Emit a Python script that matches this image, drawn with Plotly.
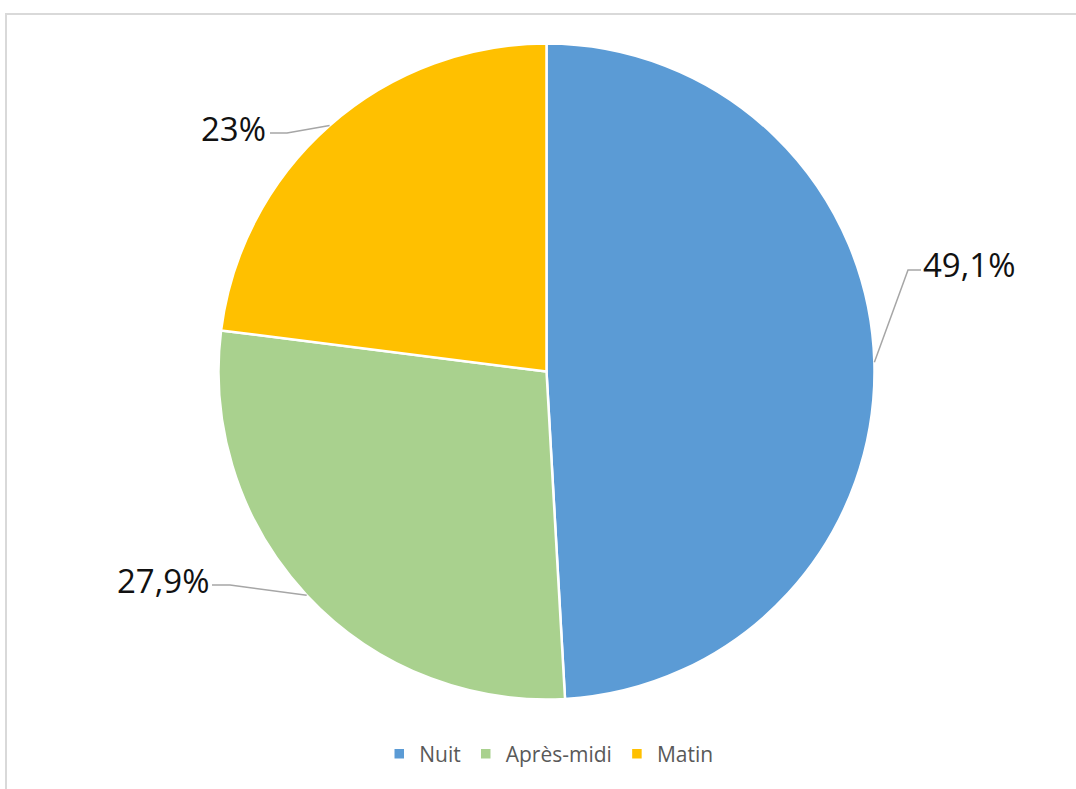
import math
import plotly.graph_objects as go

# Share of events by time of day (%)
categories = ["Nuit", "Après-midi", "Matin"]
values = [49.1, 27.9, 23.0]
colors = ["#5B9BD5", "#A9D18E", "#FFC000"]

W, H = 1076, 789
cx, cy, r = 546.5, 371.5, 328.0  # pie centre / radius in pixels


def px(x, y):
    return x / W, 1 - y / H


fig = go.Figure(
    go.Pie(
        labels=categories,
        values=values,
        sort=False,
        direction="clockwise",
        rotation=0,
        marker=dict(colors=colors, line=dict(color="white", width=2.5)),
        textinfo="none",
        hoverinfo="label+percent",
        domain=dict(x=[(cx - r) / W, (cx + r) / W], y=[1 - (cy + r) / H, 1 - (cy - r) / H]),
    )
)

# Outside labels with leader lines, anchored at each slice's mid-angle
label_cfg = {
    "Nuit": dict(bend=(908, 270), end=(921, 270), text=(921, 264), anchor="left"),
    "Après-midi": dict(bend=(230, 585), end=(212, 585), text=(211, 580), anchor="right"),
    "Matin": dict(bend=(287, 133), end=(270, 133), text=(268, 129), anchor="right"),
}
total = sum(values)
cum = 0.0
shapes = []
annotations = []
for cat, v in zip(categories, values):
    mid = (cum + v / 2) / total * 2 * math.pi
    cum += v
    ex, ey = cx + r * math.sin(mid), cy - r * math.cos(mid)
    cfg = label_cfg[cat]
    pts = [px(ex, ey), px(*cfg["bend"]), px(*cfg["end"])]
    path = "M {} {} L {} {} L {} {}".format(*[c for p in pts for c in p])
    shapes.append(dict(type="path", xref="paper", yref="paper", path=path,
                       line=dict(color="#a6a6a6", width=1.5)))
    tx, ty = px(*cfg["text"])
    annotations.append(dict(
        x=tx, y=ty, xref="paper", yref="paper", xanchor=cfg["anchor"], yanchor="middle",
        text=f"{v:g}".replace(".", ",") + "%", showarrow=False,
        font=dict(family="Open Sans, sans-serif", size=33, color="#111111"),
    ))

# Chart area frame
shapes.append(dict(type="rect", xref="paper", yref="paper",
                   x0=6 / W, x1=1.05, y0=-0.05, y1=1 - 14 / H,
                   line=dict(color="#d9d9d9", width=2), fillcolor="rgba(0,0,0,0)"))

fig.update_layout(
    width=W,
    height=H,
    margin=dict(l=0, r=0, t=0, b=0),
    paper_bgcolor="white",
    plot_bgcolor="white",
    shapes=shapes,
    annotations=annotations,
    showlegend=True,
    legend=dict(
        orientation="h",
        x=0.51,
        xanchor="center",
        y=1 - 754 / H,
        yanchor="middle",
        font=dict(family="Open Sans, sans-serif", size=21, color="#595959"),
        itemwidth=30,
        traceorder="normal",
    ),
)

fig.write_html("out.html")
